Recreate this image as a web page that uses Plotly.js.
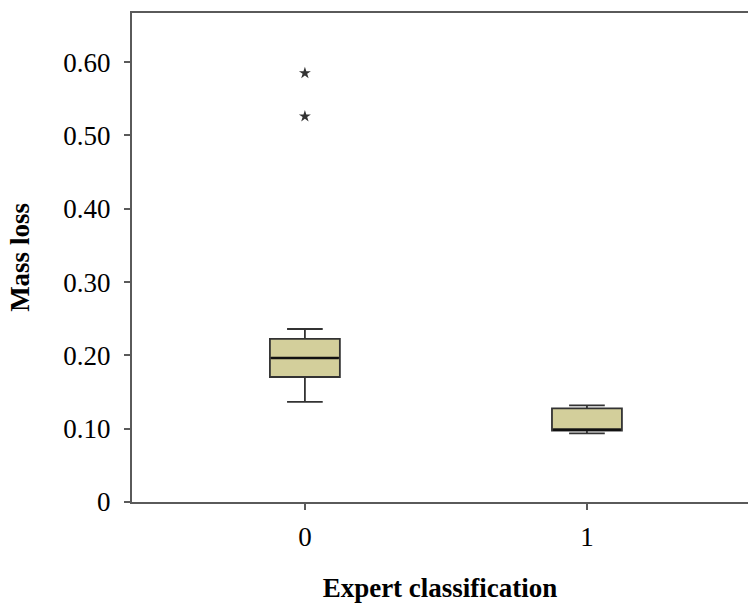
<!DOCTYPE html>
<html>
<head>
<meta charset="utf-8">
<script src="https://cdn.plot.ly/plotly-3.0.1.min.js"></script>
<style>html,body{margin:0;padding:0;background:#fff;}#chart{width:748px;height:603px;}</style>
</head>
<body>
<div id="chart"></div>
<script>
// Data
const categories = [0, 1];
const categoryLabels = ["0", "1"];
const q1 = [0.1705, 0.0975];
const median = [0.1965, 0.0985];
const q3 = [0.2225, 0.1277];
const lowerWhisker = [0.1365, 0.0937];
const upperWhisker = [0.236, 0.1319];
const outlierX = [0, 0];
const outlierY = [0.585, 0.526];
const yTickVals = [0, 0.1, 0.2, 0.3, 0.4, 0.5, 0.6];
const yTickText = ["0", "0.10", "0.20", "0.30", "0.40", "0.50", "0.60"];

const boxWidth = 0.248;
const lineCol = "#333333";
const axisCol = "#5a5a5a";

const traces = [{
  type: "box",
  x: categories,
  q1: q1, median: median, q3: q3,
  lowerfence: lowerWhisker, upperfence: upperWhisker,
  width: boxWidth,
  whiskerwidth: 0.51,
  fillcolor: "#d3cf9b",
  line: {color: lineCol, width: 1.8},
  boxpoints: false,
  hoverinfo: "skip",
  showlegend: false
}];
// thicker median lines
categories.forEach((c, i) => {
  traces.push({
    type: "scatter", mode: "lines",
    x: [c - boxWidth / 2 + 0.004, c + boxWidth / 2 - 0.004],
    y: [median[i], median[i]],
    line: {color: "#111", width: 2.5},
    hoverinfo: "skip", showlegend: false
  });
});
traces.push({
  type: "scatter", mode: "markers",
  x: outlierX, y: outlierY,
  marker: {symbol: "star", size: 9, color: "#333", line: {width: 0}},
  hoverinfo: "skip", showlegend: false
});

const layout = {
  width: 748, height: 603,
  margin: {l: 132, r: 0, t: 13, b: 101},
  paper_bgcolor: "#fff", plot_bgcolor: "#fff",
  font: {family: "Liberation Serif, Times New Roman, serif", color: "#000"},
  xaxis: {
    range: [-0.613, 1.571],
    tickvals: categories, ticktext: categoryLabels,
    showgrid: false, zeroline: false,
    showline: true, linecolor: axisCol, linewidth: 2, mirror: true,
    ticks: "outside", ticklen: 6, tickwidth: 2, tickcolor: axisCol,
    tickfont: {size: 27},
    ticklabelstandoff: 4,
    title: {text: "<b>Expert classification</b>", font: {size: 27}, standoff: 37}
  },
  yaxis: {
    range: [0, 0.667],
    tickvals: yTickVals, ticktext: yTickText,
    showgrid: false, zeroline: false,
    showline: true, linecolor: axisCol, linewidth: 2, mirror: false,
    ticks: "outside", ticklen: 6, tickwidth: 2, tickcolor: axisCol,
    tickfont: {size: 27},
    ticklabelstandoff: 8,
    title: {text: "<b>Mass loss</b>", font: {size: 27}, standoff: 26}
  }
};
Plotly.newPlot("chart", traces, layout, {staticPlot: true, displayModeBar: false});
</script>
</body>
</html>
